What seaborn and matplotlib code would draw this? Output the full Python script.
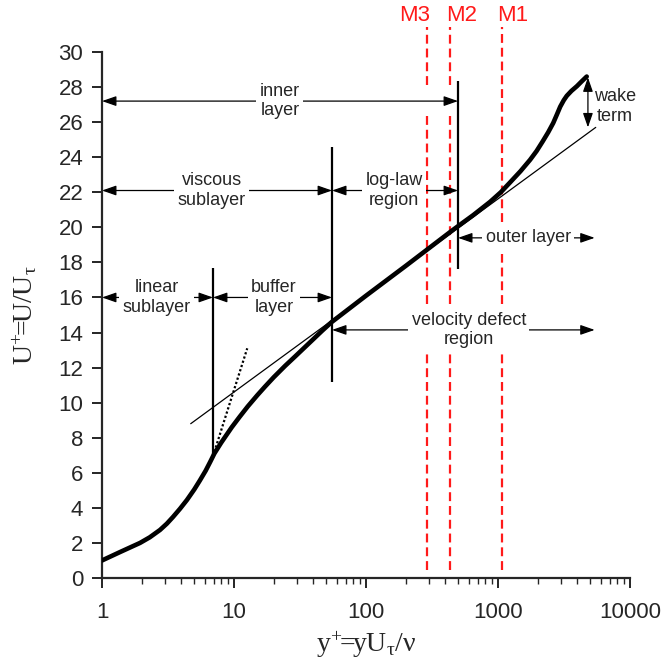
import matplotlib
matplotlib.use("Agg")
import matplotlib.pyplot as plt
import matplotlib.ticker as mticker
import numpy as np
import pandas as pd
import seaborn as sns

# ---------------- data ----------------
# mean velocity profile U+ vs y+
yplus = [1.0, 1.37, 1.94, 2.3, 2.75, 3.1, 3.45, 3.9, 4.4, 5.0, 5.5, 6.1, 6.6, 7.1,
         8.0, 9.6, 11.0, 12.7, 15.0, 17.2, 20.0, 24.4, 29.0, 34.5, 40.0, 46.5, 55,
         100, 200, 455, 650, 870, 1050, 1230, 1480, 1750, 1960, 2180, 2400, 2620,
         2800, 2960, 3150, 3320, 3600, 3960, 4300, 4700]
uplus = [1.0, 1.48, 2.0, 2.32, 2.74, 3.1, 3.48, 3.95, 4.45, 5.05, 5.55, 6.12, 6.62, 7.1,
         7.72, 8.59, 9.18, 9.78, 10.42, 10.92, 11.45, 12.1, 12.63, 13.17, 13.63, 14.1, 14.6,
         16.1, 17.8, 19.85, 20.7, 21.45, 22.0, 22.55, 23.2, 23.85, 24.35, 24.9, 25.42,
         25.95, 26.45, 26.88, 27.25, 27.5, 27.78, 28.05, 28.32, 28.6]

# log-law (thin line) and linear sublayer (dotted) end points
loglaw_y = [4.7, 5500]
loglaw_u = [8.8, 25.7]
linear_y = [7.1, 12.6]
linear_u = [7.2, 13.1]

# region boundaries (vertical black lines)
bound_y = [6.93, 55.3, 498]
bound_lo = [7.0, 11.2, 17.6]
bound_hi = [17.7, 24.6, 28.35]

# measurement stations (red dashed)
m_labels = ["M3", "M2", "M1"]
m_y = [290, 433, 1070]
m_label_x = [234, 526, 1298]
m_segments = [
    [(28.1, 31.4), (15.6, 26.4), (0.45, 12.8)],
    [(28.1, 31.4), (15.6, 26.4), (0.45, 12.8)],
    [(20.3, 31.4), (15.6, 18.5), (0.45, 12.8)],
]

# horizontal double arrows: (start y+, end y+, U+)
arrow_x0 = [1, 1, 1, 6.93, 55.3, 498, 55.3]
arrow_x1 = [498, 55.3, 6.93, 55.3, 498, 5400, 5400]
arrow_u = [27.2, 22.1, 16.0, 16.0, 22.1, 19.4, 14.15]

# region labels
label_text = ["inner\nlayer", "viscous\nsublayer", "linear\nsublayer", "buffer\nlayer",
              "log-law\nregion", "outer layer", "velocity defect\nregion"]
label_x = [22.3, 6.8, 2.6, 20.1, 163, 1690, 600]
label_u = [27.2, 22.1, 16.0, 16.0, 22.1, 19.4, 14.15]

# wake term
wake_y = 4800
wake_u = [28.55, 25.7]
wake_label_x = 7700
wake_label_u = 26.9

xticks = [1, 10, 100, 1000, 10000]
xticklabels = ["1", "10", "100", "1000", "10000"]
yticks = list(range(0, 31, 2))

# ---------------- style ----------------
sns.set_style("ticks")
plt.rcParams["font.family"] = ["Liberation Sans", "DejaVu Sans"]
plt.rcParams["mathtext.fontset"] = "custom"
plt.rcParams["mathtext.rm"] = "Liberation Serif"
plt.rcParams["mathtext.it"] = "Liberation Serif:italic"
plt.rcParams["mathtext.bf"] = "Liberation Serif:bold"

fig = plt.figure(figsize=(6.61, 6.69), dpi=100)
ax = fig.add_axes([102 / 661, 91 / 669, 528 / 661, 526 / 669])

df = pd.DataFrame({"yplus": yplus, "uplus": uplus})
sns.lineplot(data=df, x="yplus", y="uplus", ax=ax, color="black", lw=3.3,
             sort=False, estimator=None, zorder=5)
sns.lineplot(x=loglaw_y, y=loglaw_u, ax=ax, color="black", lw=0.9,
             sort=False, estimator=None, zorder=4)
sns.lineplot(x=linear_y, y=linear_u, ax=ax, color="black", lw=1.6,
             linestyle=(0, (1, 1)), sort=False, estimator=None, zorder=4)
ax.lines[0].set_solid_joinstyle("round")
ax.lines[0].set_solid_capstyle("round")

ax.set_xscale("log")
ax.set_xlim(1, 10000)
ax.set_ylim(0, 30)

# boundaries
ax.vlines(bound_y, bound_lo, bound_hi, colors="black", lw=1.6, zorder=4)

# red dashed station lines
red = "#ff1a1a"
for xm, segs, lx, lab in zip(m_y, m_segments, m_label_x, m_labels):
    for lo, hi in segs:
        ax.plot([xm, xm], [lo, hi], color=red, lw=1.6, linestyle=(0, (4, 2.2)),
                clip_on=False, zorder=1)
    ax.text(lx, 32.06, lab, color=red, fontsize=16, ha="center", va="center",
            clip_on=False)

# arrows
aprops = dict(arrowstyle="<|-|>,head_length=0.43,head_width=0.15",
              mutation_scale=20, color="black", lw=0.9, shrinkA=0, shrinkB=0)
for x0, x1, u in zip(arrow_x0, arrow_x1, arrow_u):
    ax.annotate("", xy=(x1, u), xytext=(x0, u), arrowprops=aprops, zorder=2,
                annotation_clip=False)
ax.annotate("", xy=(wake_y, wake_u[1]), xytext=(wake_y, wake_u[0]),
            arrowprops=aprops, zorder=2, annotation_clip=False)

for t, x, u in zip(label_text, label_x, label_u):
    ax.text(x, u, t, fontsize=13, ha="center", va="center", zorder=3,
            bbox=dict(fc="white", ec="none", pad=2.5))
ax.text(wake_label_x, wake_label_u, "wake\nterm", fontsize=13, ha="center",
        va="center", zorder=3, clip_on=False)

# axes styling
sns.despine(ax=ax)
for s in ["left", "bottom"]:
    ax.spines[s].set_linewidth(1.6)
ax.set_xticks(xticks)
ax.xaxis.set_major_formatter(mticker.FixedFormatter(xticklabels))
ax.xaxis.set_minor_locator(mticker.LogLocator(base=10, subs=np.arange(2, 10)))
ax.xaxis.set_minor_formatter(mticker.NullFormatter())
ax.set_yticks(yticks)
ax.tick_params(axis="both", which="major", direction="out", length=7.5, width=1.2,
               labelsize=16, color="black")
ax.tick_params(axis="x", which="major", pad=10)
ax.tick_params(axis="y", which="major", pad=6)
ax.tick_params(axis="x", which="minor", direction="out", length=4, width=1.0)

ax.set_xlabel(r"$\mathrm{y^{+}\!\!=\!\!yU_{\tau}/\nu}$", fontsize=20)
ax.set_ylabel(r"$\mathrm{U^{+}\!\!=\!\!U/U_{\tau}}$", fontsize=20)
ax.xaxis.set_label_coords(0.5, -0.1274)
ax.yaxis.set_label_coords(-0.1458, 0.5)
ax.xaxis.label.set_va("center")
ax.yaxis.label.set_va("center")

fig.savefig("out.png", dpi=100)
